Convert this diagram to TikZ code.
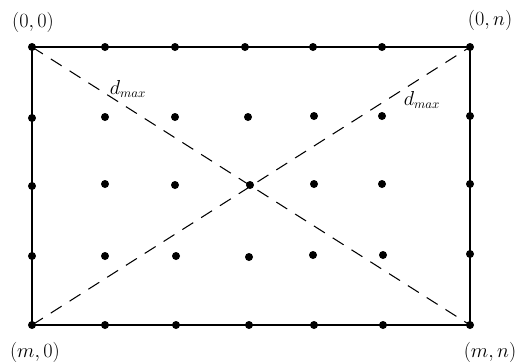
\documentclass[tikz,border=0pt]{standalone}
\begin{document}
\begin{tikzpicture}[x=0.03cm,y=-0.03cm,
  dot/.style={circle,fill,inner sep=0pt,minimum size=0.24cm},
  lab/.style={font=\fontsize{16}{19}\selectfont}]

\useasboundingbox (0,0) rectangle (523,362);

% corners
\node[dot] (tl) at (32,47) {};
\node[dot] (tr) at (470,47) {};
\node[dot] (bl) at (32,325) {};
\node[dot] (br) at (470,325) {};

\draw[line width=0.9pt] (tl.center) -- (tr.center) -- (br.center) -- (bl.center) -- cycle;
\draw[line width=0.9pt,dash pattern=on 11pt off 8pt] (tl.center) -- (br.center);
\draw[line width=0.9pt,dash pattern=on 11pt off 8pt] (bl.center) -- (tr.center);

% top and bottom rows
\node[dot] (t1) at (105,47) {};
\node[dot] (t2) at (175,47) {};
\node[dot] (t3) at (245,47) {};
\node[dot] (t4) at (313,47) {};
\node[dot] (t5) at (382,47) {};

\node[dot] (b1) at (105,325) {};
\node[dot] (b2) at (176,325) {};
\node[dot] (b3) at (249,325) {};
\node[dot] (b4) at (314,325) {};
\node[dot] (b5) at (383,325) {};

% left and right sides
\node[dot] (l1) at (32,118) {};
\node[dot] (l2) at (32,186) {};
\node[dot] (l3) at (32,256) {};

\node[dot] (r1) at (470,116) {};
\node[dot] (r2) at (470,184) {};
\node[dot] (r3) at (470,254) {};

% inside
\node[dot] (c11) at (105,117) {};
\node[dot] (c12) at (175,117) {};
\node[dot] (c13) at (248,117) {};
\node[dot] (c14) at (314,116) {};
\node[dot] (c15) at (382,116) {};

\node[dot] (c21) at (105,184) {};
\node[dot] (c22) at (175,185) {};
\node[dot] (c23) at (250,185) {};
\node[dot] (c24) at (314,184) {};
\node[dot] (c25) at (382,184) {};

\node[dot] (c31) at (105,256) {};
\node[dot] (c32) at (176,256) {};
\node[dot] (c33) at (249,257) {};
\node[dot] (c34) at (313,255) {};
\node[dot] (c35) at (383,255) {};

% labels
\node[lab] (n00) at (33,22) {$(0,0)$};
\node[lab] (n0n) at (490,20) {$(0,n)$};
\node[lab] (nm0) at (35,352) {$(m,0)$};
\node[lab] (nmn) at (490,352) {$(m,n)$};

\node[lab] (dl) at (128,89) {$d_{max}$};
\node[lab] (dr) at (422,100) {$d_{max}$};

\end{tikzpicture}
\end{document}
